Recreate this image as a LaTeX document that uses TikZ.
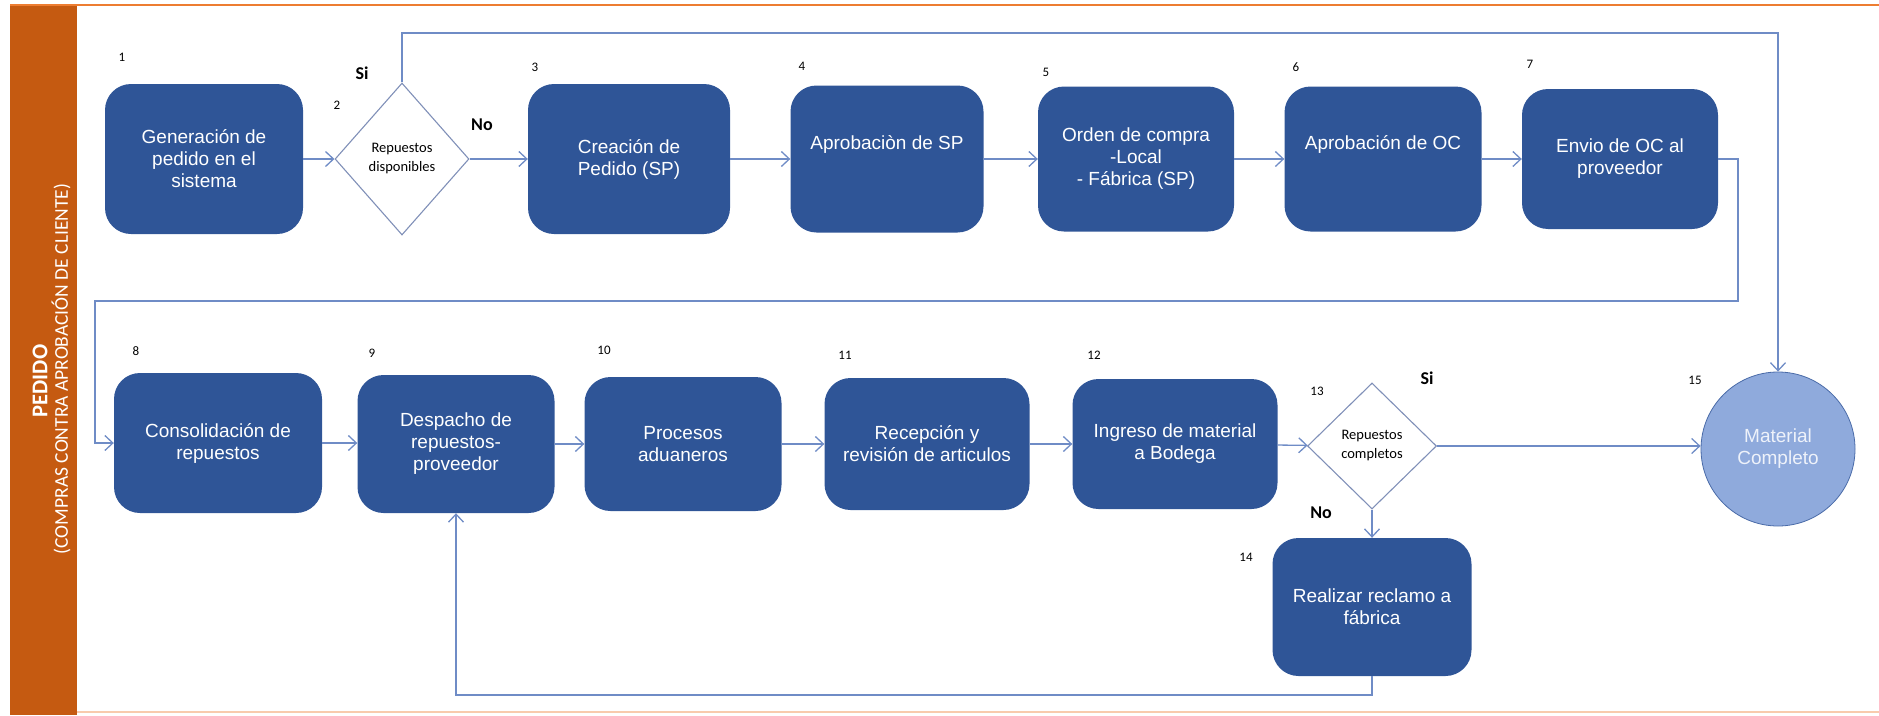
\documentclass[tikz,border=0pt]{standalone}
\usepackage{fontspec}
\setmainfont{Liberation Sans}
\newfontfamily\calib{Carlito}
\usetikzlibrary{shapes.geometric,arrows.meta}
\definecolor{boxblue}{HTML}{2F5597}
\definecolor{lineblue}{HTML}{6F8CC6}
\definecolor{bandorange}{HTML}{C55A11}
\definecolor{topline}{HTML}{ED7D31}
\definecolor{botline}{HTML}{F8CBAD}
\definecolor{circfill}{HTML}{8FAADC}
\definecolor{circedge}{HTML}{4A6BA8}
\definecolor{diaedge}{HTML}{8090B8}
\definecolor{circtext}{HTML}{EEF2FA}

\begin{document}
\begin{tikzpicture}[x=1pt,y=-1pt,
  stepbox/.style={fill=boxblue, rounded corners=26pt, text=white, align=center,
    font=\fontsize{19}{22}\selectfont, inner sep=0pt},
  decision/.style={diamond, draw=diaedge, line width=1.1pt, fill=white, align=center,
    inner sep=0pt, font=\calib\fontsize{14.5}{19}\selectfont},
  num/.style={font=\calib\fontsize{13}{15}\selectfont, inner sep=0pt},
  answer/.style={font=\calib\bfseries\fontsize{18}{20}\selectfont, inner sep=0pt},
  flow/.style={draw=lineblue, line width=1.3pt, -{Straight Barb[length=8pt,width=15pt]}},
]
\useasboundingbox (0,0) rectangle (1879,715);

% frame: orange band and rules
\fill[bandorange] (10,5) rectangle (77,715);
\draw[topline, line width=2.5pt] (10,5) -- (1879,5);
\draw[botline, line width=2.5pt] (77,712) -- (1879,712);
\node[rotate=90, text=white, font=\calib\bfseries\fontsize{22.5}{24}\selectfont] (lane) at (40,381) {PEDIDO};
\node[rotate=90, text=white, font=\calib\fontsize{19.5}{21}\selectfont] (lanesub) at (61,369) {(COMPRAS CONTRA APROBACIÓN DE CLIENTE)};

% first row
\node[stepbox, minimum width=198pt, minimum height=150pt] (b1) at (204,159) {Generación de\\pedido en el\\sistema};
\node[decision, minimum width=134pt, minimum height=152pt] (d2) at (402,159) {Repuestos\\disponibles};
\node[stepbox, minimum width=202pt, minimum height=150pt] (b3) at (629,159) {Creación de\\Pedido (SP)};
\node[stepbox, minimum width=193pt, minimum height=147pt] (b4) at (887,159) {Aprobaciòn de SP\\[10pt]};
\node[stepbox, minimum width=196pt, minimum height=145pt] (b5) at (1136,159) {Orden de compra\\-Local\\- Fábrica (SP)};
\node[stepbox, minimum width=197pt, minimum height=145pt] (b6) at (1383,159) {Aprobación de OC\\[10pt]};
\node[stepbox, minimum width=196pt, minimum height=140pt] (b7) at (1620,159) {Envio de OC al\\proveedor};

% second row
\node[stepbox, minimum width=208pt, minimum height=140pt] (b8) at (218,443) {Consolidación de\\repuestos};
\node[stepbox, minimum width=197pt, minimum height=138pt] (b9) at (456,444) {Despacho de\\repuestos-\\proveedor};
\node[stepbox, minimum width=197pt, minimum height=134pt] (b10) at (683,444) {Procesos\\aduaneros};
\node[stepbox, minimum width=205pt, minimum height=132pt] (b11) at (927,444) {Recepción y\\revisión de articulos};
\node[stepbox, minimum width=205pt, minimum height=130pt] (b12) at (1175,444) {Ingreso de material\\a Bodega};
\node[decision, minimum width=129pt, minimum height=126pt] (d13) at (1372,446) {Repuestos\\completos};
\node[stepbox, minimum width=199pt, minimum height=138pt] (b14) at (1372,607) {Realizar reclamo a\\fábrica};
\node[circle, draw=circedge, line width=0.8pt, fill=circfill, minimum size=154pt, inner sep=0pt,
  text=circtext, align=center, font=\fontsize{19}{22}\selectfont] (c15) at (1778,449) {Material\\Completo};

% step numbers
\node[num] (n1) at (122,57) {1};
\node[num] (n2) at (337,105) {2};
\node[num] (n3) at (535,67) {3};
\node[num] (n4) at (802,66) {4};
\node[num] (n5) at (1046,72) {5};
\node[num] (n6) at (1296,67) {6};
\node[num] (n7) at (1530,64) {7};
\node[num] (n8) at (136,351) {8};
\node[num] (n9) at (372,353) {9};
\node[num] (n10) at (604,350) {10};
\node[num] (n11) at (845,355) {11};
\node[num] (n12) at (1094,355) {12};
\node[num] (n13) at (1317,391) {13};
\node[num] (n14) at (1246,557) {14};
\node[num] (n15) at (1695,380) {15};

% branch answers
\node[answer] (si1) at (362,73) {Si};
\node[answer] (no1) at (482,125) {No};
\node[answer] (si2) at (1427,378) {Si};
\node[answer] (no2) at (1321,513) {No};

% turning points of the routed connectors
\coordinate (siTurn) at (1778,33);
\coordinate (wrapR) at (1738,301);
\coordinate (wrapL) at (95,301);
\coordinate (loopLow) at (1372,695);

% connectors
\draw[flow] (b1) -- (d2);
\draw[flow] (d2) -- (b3);
\draw[flow] (d2.north) |- (siTurn) -- (c15.north);
\draw[flow] (b3) -- (b4);
\draw[flow] (b4) -- (b5);
\draw[flow] (b5) -- (b6);
\draw[flow] (b6) -- (b7);
\draw[flow] (b7.east) -| (wrapR) -- (wrapL) |- (b8.west);
\draw[flow] (b8.east) -- (b8.east -| b9.west);
\draw[flow] (b9) -- (b10);
\draw[flow] (b10) -- (b11);
\draw[flow] (b11) -- (b12);
\draw[flow] (b12) -- (d13);
\draw[flow] (d13.east) -- (d13.east -| c15.west);
\draw[flow] (d13) -- (b14);
\draw[flow] (b14.south) -- (loopLow) -| (b9.south);
\end{tikzpicture}
\end{document}
